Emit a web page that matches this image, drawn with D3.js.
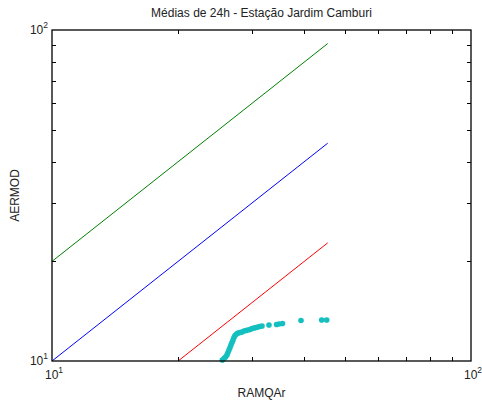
<!DOCTYPE html>
<html>
<head>
<meta charset="utf-8">
<script src="https://cdn.jsdelivr.net/npm/d3@7/dist/d3.min.js"></script>
<style>
  body { margin: 0; background: #fff; }
  text { font-family: "Liberation Sans", Arial, Helvetica, sans-serif; fill: #222; }
</style>
</head>
<body>
<svg id="chart" width="482" height="405"></svg>
<script>
// 24h averages: RAMQAr (observed) vs AERMOD (modelled)
const ramqar = [25.50, 25.73, 25.95, 26.16, 26.30, 26.45, 26.60, 26.74, 26.89, 27.04,
                27.19, 27.34, 27.57, 27.80, 28.10, 28.41, 28.73, 29.04, 29.36, 29.69,
                30.01, 30.35, 30.68, 31.02, 31.36, 31.71, 32.95, 34.35, 34.82, 35.49,
                39.29, 44.02, 45.25];
const aermod = [10.07, 10.18, 10.28, 10.43, 10.61, 10.80, 10.98, 11.18, 11.37, 11.57,
                11.78, 11.94, 12.06, 12.15, 12.19, 12.23, 12.32, 12.36, 12.41, 12.45,
                12.54, 12.58, 12.62, 12.67, 12.71, 12.76, 12.85, 12.89, 12.94, 12.98,
                13.26, 13.30, 13.30];

// Reference lines y = k·x (factor-of-two band)
const refFactors = [2, 1, 0.5];
const refColors = ["#008000", "#0000ff", "#ff0000"];
const refRange = [10, 45.5];

const xDomain = [10, 100];
const yDomain = [10, 100];
const decadeTicks = [10, 100];
const minorTicks = [20, 30, 40, 50, 60, 70, 80, 90];

const title = "Médias de 24h - Estação Jardim Camburi";
const xLabel = "RAMQAr";
const yLabel = "AERMOD";

const svg = d3.select("#chart");
const m = { left: 52, right: 471, top: 30, bottom: 361 };

const x = d3.scaleLog().domain(xDomain).range([m.left, m.right]);
const y = d3.scaleLog().domain(yDomain).range([m.bottom, m.top]);

svg.append("defs").append("clipPath").attr("id", "plotClip")
  .append("rect")
  .attr("x", m.left).attr("y", m.top)
  .attr("width", m.right - m.left).attr("height", m.bottom - m.top);

// Reference lines
const line = d3.line().x(d => x(d[0])).y(d => y(d[1]));
const refG = svg.append("g").attr("clip-path", "url(#plotClip)");
refFactors.forEach((k, i) => {
  refG.append("path")
    .attr("d", line(refRange.map(v => [v, v * k])))
    .attr("fill", "none")
    .attr("stroke", refColors[i])
    .attr("stroke-width", 1);
});

// Scatter
svg.append("g")
  .selectAll("circle")
  .data(ramqar.map((v, i) => [v, aermod[i]]))
  .join("circle")
  .attr("cx", d => x(d[0]))
  .attr("cy", d => y(d[1]))
  .attr("r", 2.8)
  .attr("fill", "#14bfbf");

// Minor ticks on all four sides, pointing inward
const tickLen = 4;
const axisG = svg.append("g").attr("stroke", "#000").attr("stroke-width", 1);
minorTicks.forEach(t => {
  const px = Math.round(x(t)) + 0.5;
  axisG.append("line").attr("x1", px).attr("x2", px).attr("y1", m.bottom).attr("y2", m.bottom - tickLen);
  axisG.append("line").attr("x1", px).attr("x2", px).attr("y1", m.top).attr("y2", m.top + tickLen);
  const py = Math.round(y(t)) + 0.5;
  axisG.append("line").attr("y1", py).attr("y2", py).attr("x1", m.left).attr("x2", m.left + tickLen);
  axisG.append("line").attr("y1", py).attr("y2", py).attr("x1", m.right).attr("x2", m.right - tickLen);
});

// Frame
svg.append("rect")
  .attr("x", m.left).attr("y", m.top)
  .attr("width", m.right - m.left).attr("height", m.bottom - m.top)
  .attr("fill", "none").attr("stroke", "#000").attr("stroke-width", 1.3);

// Decade tick labels as 10^n
function powLabel(g, t, ax, ay, anchor) {
  const exp = Math.round(Math.log10(t));
  const txt = g.append("text").attr("x", ax).attr("y", ay)
    .attr("text-anchor", anchor).attr("font-size", 12);
  txt.append("tspan").text("10");
  txt.append("tspan").attr("dy", -6).attr("font-size", 8.5).text(exp);
}
const labG = svg.append("g");
decadeTicks.forEach(t => {
  powLabel(labG, t, x(t) + 2, m.bottom + 18, "middle");
  powLabel(labG, t, m.left - 4, y(t) + 4, "end");
});

// Title and axis labels
svg.append("text").attr("x", (m.left + m.right) / 2).attr("y", 17)
  .attr("text-anchor", "middle").attr("font-size", 12).text(title);
svg.append("text").attr("x", (m.left + m.right) / 2).attr("y", 397)
  .attr("text-anchor", "middle").attr("font-size", 12).text(xLabel);
svg.append("text")
  .attr("transform", `translate(19, ${(m.top + m.bottom) / 2}) rotate(-90)`)
  .attr("text-anchor", "middle").attr("font-size", 12).text(yLabel);
</script>
</body>
</html>
